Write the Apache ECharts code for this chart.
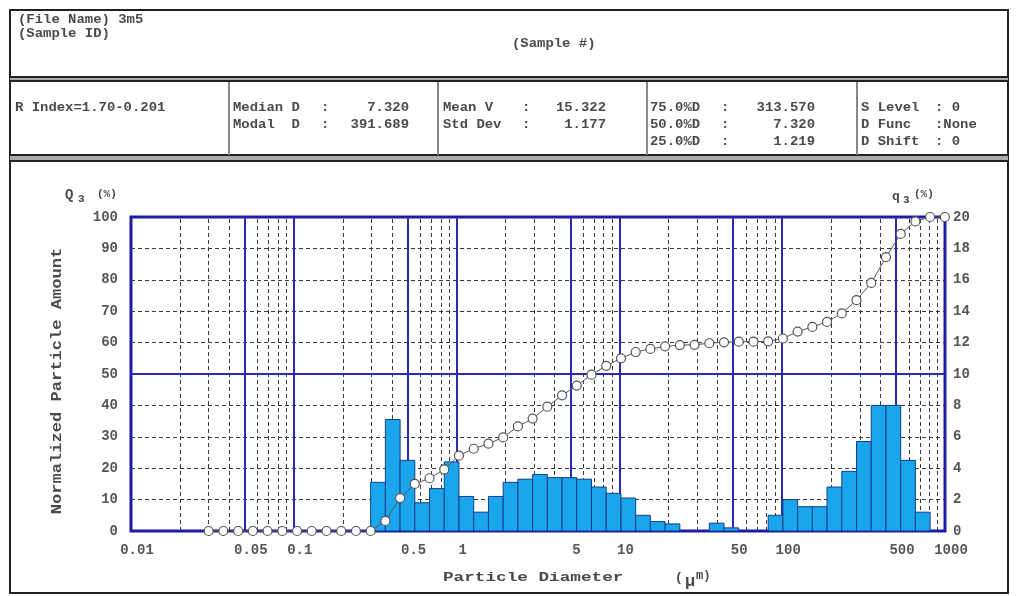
<!DOCTYPE html>
<html>
<head>
<meta charset="utf-8">
<script src="https://cdn.jsdelivr.net/npm/echarts@6/dist/echarts.min.js"></script>
<style>
html,body{margin:0;padding:0;background:#fff;}
#chart{width:1020px;height:596px;}
</style>
</head>
<body>
<div id="chart"></div>
<script>
// Channel edges of the size distribution (µm), log spaced
const binEdges = [0.0300, 0.0369, 0.0455, 0.0560, 0.0690, 0.0850, 0.1047, 0.1289, 0.1588, 0.1955,
  0.2408, 0.2965, 0.3652, 0.4497, 0.5538, 0.6820, 0.8399, 1.034, 1.274, 1.569,
  1.932, 2.379, 2.930, 3.608, 4.443, 5.472, 6.739, 8.299, 10.22, 12.59,
  15.50, 19.09, 23.51, 28.95, 35.65, 43.91, 54.07, 66.59, 82.00, 101.0,
  124.4, 153.2, 188.6, 232.3, 286.0, 352.3, 433.8, 534.3, 657.9, 810.2, 997.8];

// q3 (%) : amount in each channel (one value per channel, between consecutive edges)
const q3Values = [0, 0, 0, 0, 0, 0, 0, 0, 0, 0,
  0, 3.1, 7.1, 4.5, 1.8, 2.7, 4.4, 2.2, 1.2, 2.2,
  3.1, 3.3, 3.6, 3.4, 3.4, 3.3, 2.8, 2.4, 2.1, 1.0,
  0.6, 0.45, 0, 0, 0.5, 0.2, 0, 0, 1.0, 2.0,
  1.55, 1.55, 2.8, 3.8, 5.7, 8.0, 8.0, 4.5, 1.2, 0];

// Q3 (%) : cumulative undersize at each edge
const Q3Values = [0, 0, 0, 0, 0, 0, 0, 0, 0, 0,
  0, 0, 3.2, 10.5, 15.0, 16.8, 19.6, 24.0, 26.2, 27.8,
  29.8, 33.3, 35.8, 39.6, 43.2, 46.3, 49.8, 52.6, 55.0, 57.0,
  58.0, 58.8, 59.2, 59.3, 59.8, 60.1, 60.3, 60.3, 60.4, 61.3,
  63.5, 65.0, 66.6, 69.3, 73.5, 79.0, 87.2, 94.6, 98.6, 100, 100];

const xTickLabels = [0.01, 0.05, 0.1, 0.5, 1, 5, 10, 50, 100, 500, 1000];
const xSolidLines = [0.05, 0.1, 0.5, 1, 5, 10, 50, 100, 500];
const xDashedLines = [0.02, 0.03, 0.04, 0.06, 0.07, 0.08, 0.09,
  0.2, 0.3, 0.4, 0.6, 0.7, 0.8, 0.9,
  2, 3, 4, 6, 7, 8, 9,
  20, 30, 40, 60, 70, 80, 90,
  200, 300, 400, 600, 700, 800, 900];
const ySolidLines = [50];
const yDashedLines = [10, 20, 30, 40, 60, 70, 80, 90];

// Report header fields
const headerRows = {
  fileName: '(File Name) 3m5',
  sampleId: '(Sample ID)',
  sampleNo: '(Sample #)',
  rIndex: 'R Index=1.70-0.201'
};
const statsBox2 = [['Median D', ':', '7.320'], ['Modal  D', ':', '391.689']];
const statsBox3 = [['Mean V', ':', '15.322'], ['Std Dev', ':', '1.177']];
const statsBox4 = [['75.0%D', ':', '313.570'], ['50.0%D', ':', '7.320'], ['25.0%D', ':', '1.219']];
const statsBox5 = [['S Level', ': 0'], ['D Func', ':None'], ['D Shift', ': 0']];

const MONO = '"Liberation Mono", "DejaVu Sans Mono", monospace';
const BLUE = '#1c1ca6';
const INK = '#4a4a4a';

function txt(x, y, text, opt) {
  opt = opt || {};
  return {
    type: 'text', x: x, y: y,
    rotation: opt.rotation || 0,
    scaleX: opt.scaleX || 1,
    silent: true,
    style: {
      text: text,
      font: (opt.weight || 'bold') + ' ' + (opt.size || 14) + 'px ' + MONO,
      fill: opt.color || INK,
      textAlign: opt.align || 'left',
      textVerticalAlign: 'middle',
      align: opt.align || 'left',
      verticalAlign: 'middle'
    }
  };
}
// header / table text: small monospace, widened
function htxt(x, y, text, align) {
  return txt(x, y, text, { size: 12, scaleX: 1.16, align: align });
}
function hline(x1, x2, y, w, c) {
  return { type: 'line', silent: true, shape: { x1: x1, y1: y, x2: x2, y2: y }, style: { stroke: c || '#222', lineWidth: w || 2 } };
}
function vline(x, y1, y2, w, c) {
  return { type: 'line', silent: true, shape: { x1: x, y1: y1, x2: x, y2: y2 }, style: { stroke: c || '#222', lineWidth: w || 2 } };
}

const graphics = [];
// page frame and table rules
graphics.push({ type: 'rect', silent: true, shape: { x: 10, y: 10, width: 998, height: 583 }, style: { fill: 'none', stroke: '#222', lineWidth: 2 } });
graphics.push({ type: 'rect', silent: true, shape: { x: 10, y: 77, width: 998, height: 4 }, style: { fill: '#aaa' } });
graphics.push(hline(10, 1008, 77, 2), hline(10, 1008, 81, 2));
graphics.push({ type: 'rect', silent: true, shape: { x: 10, y: 155, width: 998, height: 6 }, style: { fill: '#aaa' } });
graphics.push(hline(10, 1008, 155, 2), hline(10, 1008, 161, 2));
[229, 438, 647, 857].forEach(function (x) { graphics.push(vline(x, 82, 155, 2, '#888')); });

// header texts
graphics.push(htxt(18, 20, headerRows.fileName));
graphics.push(htxt(18, 34, headerRows.sampleId));
graphics.push(htxt(512, 44, headerRows.sampleNo));
graphics.push(htxt(15, 108, headerRows.rIndex));

const rowY = [108, 125, 142];
statsBox2.forEach(function (r, i) {
  graphics.push(htxt(233, rowY[i], r[0]), htxt(321, rowY[i], r[1]), htxt(409, rowY[i], r[2], 'right'));
});
statsBox3.forEach(function (r, i) {
  graphics.push(htxt(443, rowY[i], r[0]), htxt(522, rowY[i], r[1]), htxt(606, rowY[i], r[2], 'right'));
});
statsBox4.forEach(function (r, i) {
  graphics.push(htxt(650, rowY[i], r[0]), htxt(721, rowY[i], r[1]), htxt(815, rowY[i], r[2], 'right'));
});
statsBox5.forEach(function (r, i) {
  graphics.push(htxt(861, rowY[i], r[0]), htxt(935, rowY[i], r[1]));
});

// axis names
graphics.push(txt(65, 195, 'Q'), txt(78, 199, '3', { size: 11 }), txt(97, 194, '(%)', { size: 11 }));
graphics.push(txt(892, 197, 'q', { size: 13 }), txt(903, 200, '3', { size: 11 }), txt(914, 194, '(%)', { size: 11 }));
graphics.push(txt(57, 381, 'Normalized Particle Amount', { align: 'center', rotation: Math.PI / 2, scaleX: 1.22 }));
graphics.push(txt(443, 578, 'Particle Diameter', { size: 13, scaleX: 1.36 }));
graphics.push(txt(675, 578, '(', { size: 13 }), txt(685, 582, 'μ', { size: 17 }), txt(696, 576, 'm)', { size: 12 }));

const dashStyle = { type: [4, 3], color: '#3a3a3a', width: 1 };
const solidStyle = { type: 'solid', color: '#2a2ab4', width: 2 };
const gridLineData = []
  .concat(xDashedLines.map(function (v) { return { xAxis: v, lineStyle: dashStyle }; }))
  .concat(yDashedLines.map(function (v) { return { yAxis: v, lineStyle: dashStyle }; }))
  .concat(xSolidLines.map(function (v) { return { xAxis: v, lineStyle: solidStyle }; }))
  .concat(ySolidLines.map(function (v) { return { yAxis: v, lineStyle: solidStyle }; }));

const tickFont = { fontFamily: MONO, fontSize: 14, fontWeight: 'bold', color: '#555' };

const chart = echarts.init(document.getElementById('chart'), null, { renderer: 'canvas' });
chart.setOption({
  animation: false,
  backgroundColor: '#ffffff',
  graphic: { elements: graphics },
  grid: {
    left: 131, right: 75, top: 217, bottom: 65,
    show: true, borderColor: BLUE, borderWidth: 3, backgroundColor: 'transparent'
  },
  xAxis: {
    type: 'log', logBase: 10, min: 0.01, max: 1000,
    axisLine: { show: false }, axisTick: { show: false }, splitLine: { show: false },
    axisLabel: Object.assign({
      customValues: xTickLabels,
      margin: 12,
      padding: [0, 0, 0, 12],
      formatter: function (v) { return String(parseFloat(Number(v).toPrecision(4))); }
    }, tickFont)
  },
  yAxis: [
    {
      type: 'value', min: 0, max: 100, interval: 10, position: 'left',
      axisLine: { show: false }, axisTick: { show: false }, splitLine: { show: false },
      axisLabel: Object.assign({ margin: 13 }, tickFont)
    },
    {
      type: 'value', min: 0, max: 20, interval: 2, position: 'right',
      axisLine: { show: false }, axisTick: { show: false }, splitLine: { show: false },
      axisLabel: Object.assign({ margin: 8 }, tickFont)
    }
  ],
  series: [
    {
      name: 'grid', type: 'line', data: [], xAxisIndex: 0, yAxisIndex: 0, silent: true,
      markLine: {
        silent: true, symbol: ['none', 'none'], label: { show: false }, z: 1, animation: false,
        data: gridLineData
      }
    },
    {
      name: 'q3', type: 'custom', xAxisIndex: 0, yAxisIndex: 1, z: 3, clip: true,
      data: q3Values.map(function (q, i) { return [binEdges[i], binEdges[i + 1], q]; }),
      encode: { x: [0, 1], y: 2 },
      renderItem: function (params, api) {
        const q = api.value(2);
        if (!q) return null;
        const p0 = api.coord([api.value(0), 0]);
        const p1 = api.coord([api.value(1), q]);
        return {
          type: 'rect',
          shape: { x: p0[0], y: p1[1], width: p1[0] - p0[0], height: p0[1] - p1[1] },
          style: { fill: '#19a6ec', stroke: '#173c86', lineWidth: 1 }
        };
      }
    },
    {
      name: 'Q3', type: 'line', xAxisIndex: 0, yAxisIndex: 0, z: 4, clip: false,
      data: binEdges.map(function (e, i) { return [e, Q3Values[i]]; }),
      symbol: 'circle', symbolSize: 9, showAllSymbol: true,
      lineStyle: { color: '#555', width: 1 },
      itemStyle: { color: '#ffffff', borderColor: '#555', borderWidth: 1.2 }
    }
  ]
});
</script>
</body>
</html>
